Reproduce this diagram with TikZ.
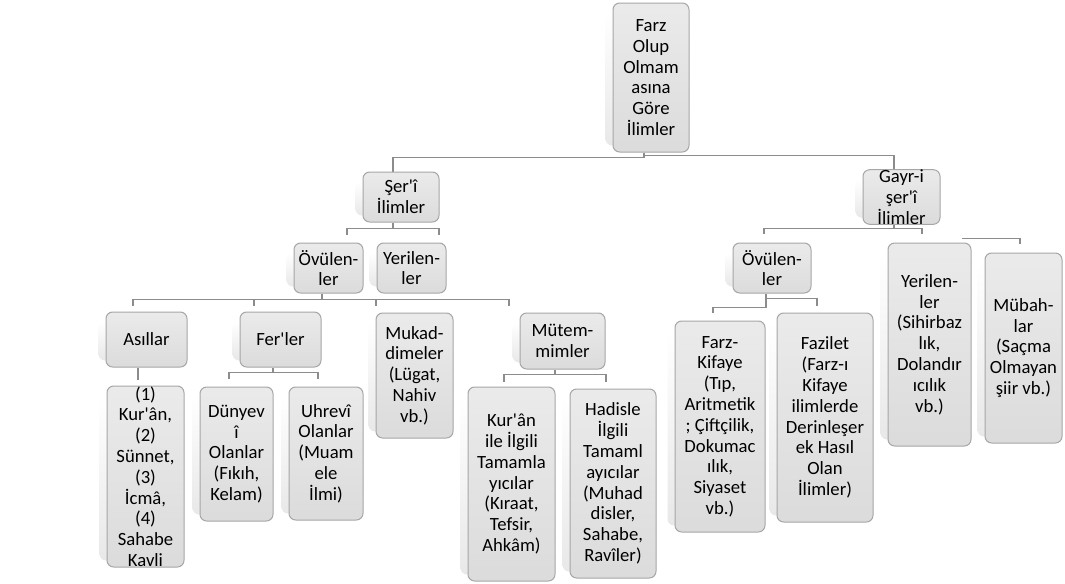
\documentclass[tikz,border=0pt]{standalone}
\usepackage{fontspec}
\setmainfont{Carlito}[Ligatures=TeXOff]
\usetikzlibrary{calc,backgrounds}
\tikzset{
  box/.style 2 args={draw=black!35, line width=0.75pt, rounded corners=5pt,
    top color=black!8, bottom color=black!14,
    minimum width=#1*0.75pt, minimum height=#2*0.75pt,
    inner sep=0pt, align=center, text=black,
    font=\fontsize{14}{15.6}\selectfont},
  link/.style={draw=black!45, line width=0.8pt},
  shadowpad/.style={top color=white, bottom color=black!9, rounded corners=5pt},
}
\begin{document}
\begin{tikzpicture}[x=0.75pt,y=-0.75pt]
\useasboundingbox (0,0) rectangle (1065,583);

% boxes: width, height in px, placed at their centres
\node[box={76}{149}] (root) at (651,77.5) {Farz\\Olup\\Olmam\\asına\\Göre\\İlimler};
\node[box={76}{50}] (seri) at (401,197) {Şer'î\\İlimler};
\node[box={77}{50}] (gayri) at (901.5,197) {Gayr-i\\şer'î\\İlimler};

\node[box={69}{50}] (ov1) at (328.5,268) {Övülen-\\ler};
\node[box={69}{50}] (yer1) at (411.5,268) {Yerilen-\\ler};

\node[box={81}{55}] (asil) at (146.5,339.5) {Asıllar};
\node[box={81}{55}] (fer) at (280.5,339.5) {Fer'ler};
\node[box={77}{125}] (mukad) at (414.5,375.5) {Mukad-\\dimeler\\(Lügat,\\Nahiv\\vb.)};
\node[box={85}{56}] (mutem) at (562.5,341) {Mütem-\\mimler};

\node[box={77}{181}] (kaynak) at (145.5,476.5) {(1)\\Kur'ân,\\(2)\\Sünnet,\\(3)\\İcmâ,\\(4)\\Sahabe\\Kavli};
\node[box={73}{134}] (dunya) at (236.5,454) {Dünyev\\î\\Olanlar\\(Fıkıh,\\Kelam)};
\node[box={74}{133}] (uhrevi) at (326,453.5) {Uhrevî\\Olanlar\\(Muam\\ele\\İlmi)};
\node[box={87}{194}] (kuran) at (511.5,484) {Kur'ân\\ile İlgili\\Tamamla\\yıcılar\\(Kıraat,\\Tefsir,\\Ahkâm)};
\node[box={86}{189}] (hadis) at (613,483.5) {Hadisle\\İlgili\\Tamaml\\ayıcılar\\(Muhad\\disler,\\Sahabe,\\Ravîler)};

\node[box={78}{50}] (ov2) at (772,268) {Övülen-\\ler};
\node[box={83}{203}] (yer2) at (929.5,344.5) {Yerilen-\\ler\\(Sihirbaz\\lık,\\Dolandır\\ıcılık\\vb.)};
\node[box={77}{190}] (mubah) at (1023.5,348) {Mübah-\\lar\\(Saçma\\Olmayan\\şiir vb.)};
\node[box={90}{211}] (farzk) at (720,426.5) {Farz-\\Kifaye\\(Tıp,\\Aritmetik\\; Çiftçilik,\\Dokumac\\ılık,\\Siyaset\\vb.)};
\node[box={96}{209}] (fazilet) at (825,417.5) {Fazilet\\(Farz-ı\\Kifaye\\ilimlerde\\Derinleşer\\ek Hasıl\\Olan\\İlimler)};

\begin{scope}[on background layer]
  \fill[white] (0,0) rectangle (1065,583);
  % soft shadows on the left of every box
  \foreach \n in {root,seri,gayri,ov1,yer1,asil,fer,mukad,mutem,kaynak,dunya,uhrevi,kuran,hadis,ov2,yer2,mubah,farzk,fazilet}
    \shade[shadowpad] ($(\n.north west)+(-7,10)$) rectangle ($(\n.south east)+(-7,-7)$);

  % root
  \draw[link] ($(root.south)+(-7,0)$) |- ($(seri.north)+(-8,-14)$) -- ($(seri.north)+(-8,0)$);
  \draw[link] ($(root.south)+(-7,0)$) |- ($(gayri.north)+(-7.5,-14)$) -- ($(gayri.north)+(-7.5,0)$);
  % Şer'î İlimler
  \draw[link] ($(seri.south)+(-8,0)$) |- ($(ov1.north)+(18.5,-14)$) -- ($(ov1.north)+(18.5,-8)$);
  \draw[link] ($(seri.south)+(-8,0)$) |- ($(yer1.north)+(27.5,-14)$) -- ($(yer1.north)+(27.5,-8)$);
  % Övülenler (left)
  \draw[link] ($(ov1.south)+(-6.5,0)$) |- ($(asil.north)+(-13.5,-12)$) -- ($(asil.north)+(-13.5,-6)$);
  \draw[link] ($(ov1.south)+(-6.5,0)$) |- ($(fer.north)+(-26.5,-12)$) -- ($(fer.north)+(-26.5,-6)$);
  \draw[link] ($(ov1.south)+(-6.5,0)$) |- ($(mukad.north)+(-38.5,-13)$) -- ($(mukad.north)+(-38.5,-7)$);
  \draw[link] ($(ov1.south)+(-6.5,0)$) |- ($(mutem.north)+(-53.5,-13)$) -- ($(mutem.north)+(-53.5,-7)$);
  % Asıllar
  \draw[link] ($(asil.south)+(-8.5,0)$) -- ($(kaynak.north)+(-7.5,-6)$);
  % Fer'ler
  \draw[link] ($(fer.south)+(-7.5,0)$) |- ($(dunya.north)+(-7.5,-14)$) -- ($(dunya.north)+(-7.5,-8)$);
  \draw[link] ($(fer.south)+(-7.5,0)$) |- ($(uhrevi.north)+(-8,-14)$) -- ($(uhrevi.north)+(-8,-8)$);
  % Mütemmimler
  \draw[link] ($(mutem.south)+(-7.5,0)$) |- ($(kuran.north)+(-7.5,-12)$) -- ($(kuran.north)+(-7.5,-5)$);
  \draw[link] ($(mutem.south)+(-7.5,0)$) |- ($(hadis.north)+(-7,-14)$) -- ($(hadis.north)+(-7,-7)$);
  % Gayr-i şer'î İlimler
  \draw[link] ($(gayri.south)+(-7.5,0)$) |- ($(ov2.north)+(-8,-14)$) -- ($(ov2.north)+(-8,-9)$);
  \draw[link] ($(gayri.south)+(-7.5,0)$) |- ($(yer2.north)+(-7.5,-14)$) -- ($(yer2.north)+(-7.5,-9)$);
  \draw[link] ($(yer2.north east)+(-10,-4)$) -| ($(mubah.north)+(-3.5,-9)$);
  % Övülenler (right)
  \draw[link] ($(ov2.south)+(-6,0)$) |- ($(farzk.north)+(-7,-13)$) -- ($(farzk.north)+(-7,-8)$);
  \draw[link] ($(ov2.south)+(-6,0)$) |- ($(fazilet.north)+(-8,-14)$) -- ($(fazilet.north)+(-8,-7)$);
\end{scope}
\end{tikzpicture}
\end{document}
